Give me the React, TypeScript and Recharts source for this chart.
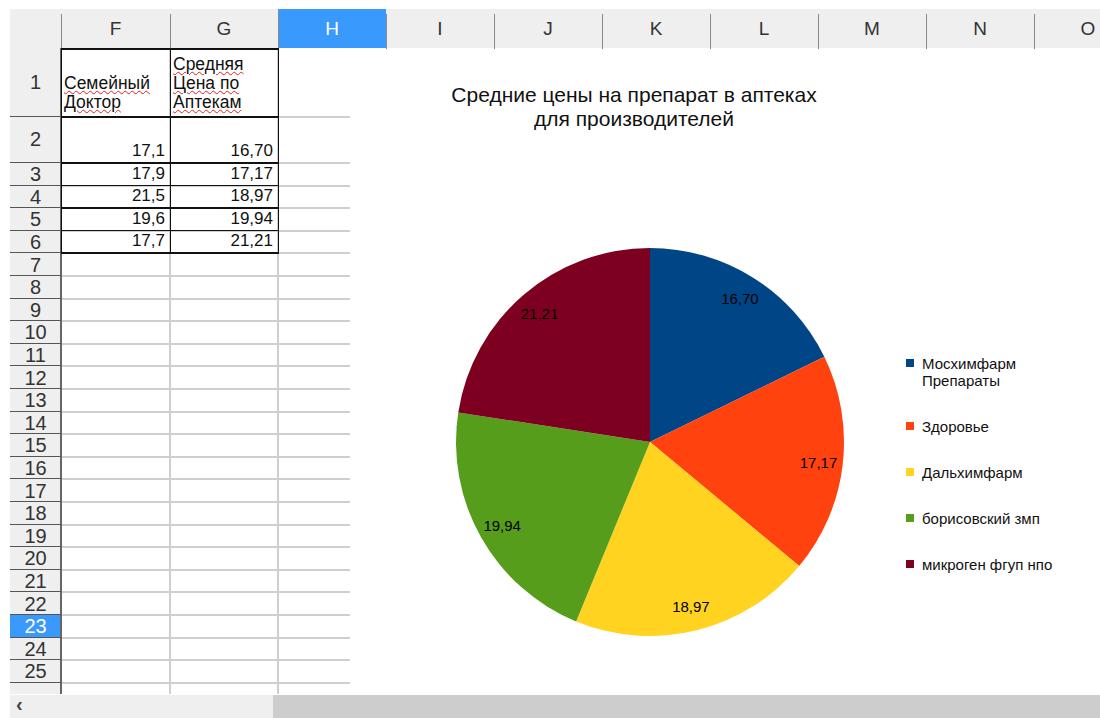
import { Cell, Legend, Pie, PieChart } from "recharts";

const producers = [
  "Мосхимфарм\nПрепараты",
  "Здоровье",
  "Дальхимфарм",
  "борисовский змп",
  "микроген фгуп нпо"
];
const avgPrices = [16.7, 17.17, 18.97, 19.94, 21.21];
const familyDoctor = [17.1, 17.9, 21.5, 19.6, 17.7];
const sliceColors = ["#004586", "#ff420e", "#ffd320", "#579d1c", "#7e0021"];
const titleLines = ["Средние цены на препарат в аптеках", "для производителей"];
const headerF = ["Семейный", "Доктор"];
const headerG = ["Средняя", "Цена по", "Аптекам"];
const columnLetters = ["F", "G", "H", "I", "J", "K", "L", "M", "N", "O"];

const FONT = "'Liberation Sans', Arial, sans-serif";
const colEdges = [61, 170, 278, 386, 494, 602, 710, 818, 926, 1034, 1142];
const rowTops = [48, 116, ...Array.from({ length: 24 }, (_, i) => 162 + i * 22.6)];
const gridBottom = 694;

const pieData = producers.map((name, i) => ({ name, value: avgPrices[i] }));
const fmt = (v: number, d: number) => v.toFixed(d).replace(".", ",");

const RAD = Math.PI / 180;
function renderLabel(props: any) {
  const { cx, cy, midAngle, outerRadius, value } = props;
  const r = outerRadius * 0.875;
  const x = cx + r * Math.cos(-midAngle * RAD);
  const y = cy + r * Math.sin(-midAngle * RAD);
  return (
    <text x={x} y={y} fill="#000" fontSize={15} fontFamily={FONT} textAnchor="middle" dominantBaseline="central">
      {fmt(value, 2)}
    </text>
  );
}

function LegendBox() {
  return (
    <div style={{ fontFamily: FONT, fontSize: 15, lineHeight: "17px", color: "#111" }}>
      {producers.map((name, i) => (
        <div key={name} style={{ display: "flex", marginBottom: 29 }}>
          <div style={{ width: 8, height: 8, marginTop: 4, marginRight: 8, background: sliceColors[i] }} />
          <div style={{ whiteSpace: "pre-line" }}>{name}</div>
        </div>
      ))}
    </div>
  );
}

const wavy = { textDecoration: "underline wavy #e02020", textDecorationThickness: 1 } as const;

function Sheet() {
  const rowsCount = rowTops.length - 1;
  const hLines = rowTops.slice(1);
  return (
    <>
      {/* column header */}
      <div style={{ position: "absolute", left: 10, top: 9, width: 1090, height: 39, background: "#efefef" }} />
      {columnLetters.map((c, i) => (
        <div
          key={c}
          style={{
            position: "absolute",
            left: colEdges[i],
            top: 9,
            width: colEdges[i + 1] - colEdges[i],
            height: 39,
            background: c === "H" ? "#3a99fc" : "transparent",
            color: c === "H" ? "#fff" : "#333",
            fontSize: 19,
            lineHeight: "39px",
            textAlign: "center"
          }}
        >
          {c}
        </div>
      ))}
      {colEdges.map((x) => (
        <div key={"cs" + x} style={{ position: "absolute", left: x, top: 14, width: 1, height: 38, background: "#8a8a8a" }} />
      ))}
      {/* row header */}
      <div style={{ position: "absolute", left: 10, top: 48, width: 51, height: gridBottom - 48, background: "#efefef" }} />
      {Array.from({ length: rowsCount }, (_, i) => (
        <div
          key={"r" + i}
          style={{
            position: "absolute",
            left: 10,
            top: rowTops[i],
            width: 51,
            height: rowTops[i + 1] - rowTops[i],
            background: i === 22 ? "#3a99fc" : "transparent",
            color: i === 22 ? "#fff" : "#333",
            fontSize: 20,
            display: "flex",
            alignItems: "center",
            justifyContent: "center",
            paddingTop: i > 1 ? 3 : 0,
            boxSizing: "border-box"
          }}
        >
          {i + 1}
        </div>
      ))}
      <div style={{ position: "absolute", left: 60, top: 48, width: 2, height: gridBottom - 48, background: "#666" }} />
      {hLines.map((y) => (
        <div key={"rh" + y} style={{ position: "absolute", left: 10, top: y, width: 51, height: 1, background: "#555" }} />
      ))}
      {/* cell grid */}
      {hLines.map((y) => (
        <div key={"gl" + y} style={{ position: "absolute", left: 62, top: y, width: 288, height: 2, background: "#cfcfcf" }} />
      ))}
      {[170, 278].map((x) => (
        <div key={"gv" + x} style={{ position: "absolute", left: x - 1, top: 48, width: 2, height: gridBottom - 48, background: "#cfcfcf" }} />
      ))}
      {/* bordered data block F1:G6 */}
      {rowTops.slice(0, 7).map((y) => (
        <div key={"bh" + y} style={{ position: "absolute", left: 61, top: y, width: 218, height: 1.5, background: "#111" }} />
      ))}
      {[61, 170, 278].map((x) => (
        <div key={"bv" + x} style={{ position: "absolute", left: x - 0.5, top: 48, width: 1.5, height: rowTops[6] - 48, background: "#111" }} />
      ))}
      <div
        style={{
          position: "absolute", left: 62, top: 48, width: 106, height: 68, fontSize: 17.5, lineHeight: "19px",
          display: "flex", flexDirection: "column", justifyContent: "flex-end", padding: "0 0 4px 2px", boxSizing: "border-box", color: "#111"
        }}
      >
        {headerF.map((t) => <div key={t}><span style={wavy}>{t}</span></div>)}
      </div>
      <div
        style={{
          position: "absolute", left: 171, top: 48, width: 106, height: 68, fontSize: 17.5, lineHeight: "19px",
          display: "flex", flexDirection: "column", justifyContent: "flex-end", padding: "0 0 4px 2px", boxSizing: "border-box", color: "#111"
        }}
      >
        {headerG.map((t) => <div key={t}><span style={wavy}>{t}</span></div>)}
      </div>
      {avgPrices.map((v, i) => (
        <div key={"val" + i}>
          {[fmt(familyDoctor[i], 1), fmt(v, 2)].map((txt, j) => (
            <div
              key={j}
              style={{
                position: "absolute", left: colEdges[j] + 1, top: rowTops[i + 1], width: colEdges[j + 1] - colEdges[j] - 2,
                height: rowTops[i + 2] - rowTops[i + 1], fontSize: 17, display: "flex", alignItems: "flex-end",
                justifyContent: "flex-end", padding: "0 4px 1px 0", boxSizing: "border-box", color: "#111"
              }}
            >
              {txt}
            </div>
          ))}
        </div>
      ))}
      {/* scrollbar */}
      <div style={{ position: "absolute", left: 10, top: 695, width: 263, height: 23, background: "#efefef" }} />
      <div style={{ position: "absolute", left: 16, top: 693, fontSize: 20, color: "#444", fontWeight: 700 }}>‹</div>
      <div style={{ position: "absolute", left: 273, top: 695, width: 827, height: 23, background: "#cdcdcd" }} />
    </>
  );
}

export default function App() {
  return (
    <div style={{ position: "fixed", left: 0, top: 0, width: 1100, height: 718, overflow: "hidden", background: "#fff", fontFamily: FONT }}>
      <Sheet />
      <div style={{ position: "absolute", left: 350, top: 49, width: 750, height: 645, background: "#fff" }}>
        <div style={{ position: "absolute", left: 0, top: 34, width: 568, textAlign: "center", fontSize: 21, lineHeight: "24px", color: "#111" }}>
          {titleLines.map((t) => <div key={t}>{t}</div>)}
        </div>
        <PieChart width={750} height={645}>
          <Pie
            data={pieData}
            dataKey="value"
            nameKey="name"
            cx={295}
            cy={388}
            outerRadius={194}
            startAngle={90}
            endAngle={-270}
            stroke="none"
            label={renderLabel}
            labelLine={false}
            isAnimationActive={false}
          >
            {pieData.map((d, i) => (
              <Cell key={d.name} fill={sliceColors[i]} />
            ))}
          </Pie>
          <Legend
            content={() => <LegendBox />}
            wrapperStyle={{ position: "absolute", left: 556, top: 306, width: 190 }}
          />
        </PieChart>
      </div>
    </div>
  );
}
